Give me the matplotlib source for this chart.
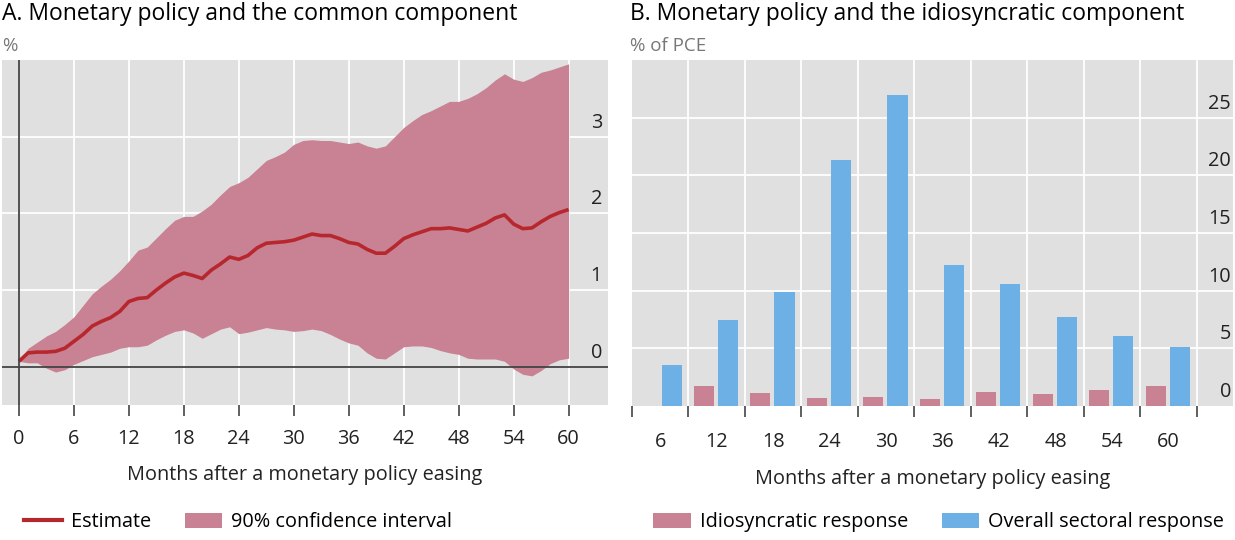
import matplotlib
matplotlib.use("Agg")
import matplotlib.pyplot as plt
import matplotlib.transforms as mtransforms
from matplotlib.lines import Line2D
from matplotlib.patches import Patch
import numpy as np

plt.rcParams['font.family'] = ['Open Sans', 'DejaVu Sans']

# ---------------- Data ----------------
months = list(range(0, 61))
estimate = [0.07, 0.18, 0.19, 0.19, 0.20, 0.24, 0.33, 0.42, 0.53, 0.59,
            0.64, 0.72, 0.85, 0.89, 0.90, 1.00, 1.09, 1.17, 1.22, 1.19,
            1.15, 1.26, 1.34, 1.43, 1.40, 1.45, 1.55, 1.61, 1.62, 1.63,
            1.65, 1.69, 1.73, 1.71, 1.71, 1.67, 1.62, 1.60, 1.53, 1.48,
            1.48, 1.57, 1.67, 1.72, 1.76, 1.80, 1.80, 1.81, 1.79, 1.77,
            1.82, 1.87, 1.94, 1.98, 1.86, 1.80, 1.81, 1.89, 1.96, 2.01,
            2.05]
upper = [0.07, 0.24, 0.32, 0.40, 0.46, 0.55, 0.65, 0.80, 0.95, 1.05,
         1.14, 1.25, 1.38, 1.52, 1.56, 1.68, 1.80, 1.91, 1.96, 1.96,
         2.03, 2.12, 2.24, 2.35, 2.40, 2.47, 2.58, 2.69, 2.74, 2.80,
         2.90, 2.95, 2.96, 2.95, 2.95, 2.93, 2.91, 2.93, 2.88, 2.85,
         2.88, 3.00, 3.12, 3.21, 3.29, 3.34, 3.40, 3.46, 3.46, 3.50,
         3.56, 3.64, 3.74, 3.82, 3.75, 3.72, 3.77, 3.84, 3.87, 3.91,
         3.95]
lower = [0.07, 0.05, 0.05, -0.02, -0.07, -0.04, 0.03, 0.08, 0.13, 0.16,
         0.19, 0.24, 0.26, 0.26, 0.28, 0.35, 0.41, 0.46, 0.48, 0.44,
         0.37, 0.43, 0.49, 0.52, 0.43, 0.45, 0.48, 0.51, 0.49, 0.48,
         0.46, 0.47, 0.49, 0.47, 0.42, 0.36, 0.31, 0.28, 0.18, 0.11,
         0.10, 0.18, 0.26, 0.27, 0.27, 0.25, 0.21, 0.18, 0.16, 0.11,
         0.10, 0.10, 0.10, 0.07, -0.03, -0.10, -0.12, -0.05, 0.04, 0.09,
         0.11]
a_xticks = [0, 6, 12, 18, 24, 30, 36, 42, 48, 54, 60]
a_yticks = [0, 1, 2, 3]

b_categories = ['6', '12', '18', '24', '30', '36', '42', '48', '54', '60']
idiosyncratic = [0.0, 1.76, 1.1, 0.66, 0.75, 0.6, 1.19, 1.0, 1.39, 1.73]
overall = [3.55, 7.45, 9.9, 21.3, 26.95, 12.2, 10.6, 7.7, 6.1, 5.1]
b_yticks = [0, 5, 10, 15, 20, 25]

# ---------------- Style ----------------
BG = '#e0e0e0'
BAND = '#c98194'
LINE = '#b7282e'
BLUE = '#6cb0e6'
PINK = '#c98194'
AXC = '#444444'
GREY_TXT = '#777777'
TXT = '#222222'
FS = 14.3

W, H = 1235, 540
fig = plt.figure(figsize=(W / 100, H / 100), dpi=100)

def rect(x0, y0, x1, y1):
    return [x0 / W, 1 - y1 / H, (x1 - x0) / W, (y1 - y0) / H]

axA = fig.add_axes(rect(2, 60, 608, 405))
axB = fig.add_axes(rect(632, 60, 1233, 406))

for ax in (axA, axB):
    ax.set_facecolor(BG)
    for s in ax.spines.values():
        s.set_visible(False)
    ax.set_axisbelow(True)

# ---------------- Panel A ----------------
axA.set_xlim(-1.85, 64.3)
axA.set_ylim(-0.5, 4)
for v in a_xticks:
    axA.axvline(v, color='white', lw=1.3, zorder=0)
for v in a_yticks[1:]:
    axA.axhline(v, color='white', lw=1.3, zorder=0)
axA.fill_between(months, lower, upper, color=BAND, lw=0, zorder=2)
axA.plot(months, estimate, color=LINE, lw=2.6, zorder=3, solid_capstyle='butt')
axA.axhline(0, color=AXC, lw=1.3, zorder=4)
axA.axvline(0, color=AXC, lw=1.3, zorder=4)

axA.set_xticks(a_xticks)
axA.set_xticklabels([str(v) for v in a_xticks])
axA.set_yticks([])
axA.tick_params(axis='x', length=8, width=1.2, color=AXC, pad=9,
                labelsize=FS, labelcolor=TXT, direction='out')
transA = mtransforms.blended_transform_factory(axA.transAxes, axA.transData)
offA = mtransforms.offset_copy(transA, fig=fig, x=0, y=14, units='dots')
for v in a_yticks:
    axA.text(0.99, v, str(v), transform=offA, ha='right', va='center',
             fontsize=FS, color=TXT)

axA.set_xlabel('Months after a monetary policy easing', fontsize=FS,
               color=TXT, labelpad=12)

fig.text(2 / W, 1 - 14 / H, 'A. Monetary policy and the common component',
         fontsize=16.5, ha='left', va='center', color='black')
fig.text(2 / W, 1 - 46 / H, '%', fontsize=13.5, ha='left', va='center',
         color=GREY_TXT)

# ---------------- Panel B ----------------
xpos = np.arange(len(b_categories))
axB.set_xlim(-0.5, 10.14)
axB.set_ylim(0, 30)
for v in np.arange(0.5, 10, 1.0):
    axB.axvline(v, color='white', lw=1.3, zorder=0)
for v in b_yticks[1:]:
    axB.axhline(v, color='white', lw=1.3, zorder=0)
bw = 0.355
axB.bar(xpos - 0.23, idiosyncratic, width=bw, color=PINK, zorder=2)
axB.bar(xpos + 0.2, overall, width=bw, color=BLUE, zorder=2)

axB.set_xticks(np.arange(-0.5, 10, 1.0))
axB.set_xticklabels([])
axB.set_xticks(xpos, minor=True)
axB.set_xticklabels(b_categories, minor=True)
axB.tick_params(axis='x', which='major', length=8, width=1.2, color=AXC,
                direction='out')
axB.tick_params(axis='x', which='minor', length=0, pad=19, labelsize=FS,
                labelcolor=TXT)
axB.set_yticks([])
transB = mtransforms.blended_transform_factory(axB.transAxes, axB.transData)
offB = mtransforms.offset_copy(transB, fig=fig, x=0, y=14, units='dots')
for v in b_yticks:
    axB.text(0.997, v, str(v), transform=offB, ha='right', va='center',
             fontsize=FS, color=TXT)
axB.set_xlabel('Months after a monetary policy easing', fontsize=FS,
               color=TXT, labelpad=12)

fig.text(630 / W, 1 - 14 / H, 'B. Monetary policy and the idiosyncratic component',
         fontsize=16.5, ha='left', va='center', color='black')
fig.text(630 / W, 1 - 46 / H, '% of PCE', fontsize=13.5, ha='left',
         va='center', color=GREY_TXT)

# ---------------- Legends ----------------
common = dict(loc='center left', ncol=2, frameon=False, fontsize=FS,
              handlelength=1.9, handleheight=0.8, columnspacing=1.7,
              handletextpad=0.45, borderpad=0, borderaxespad=0)
legA = [Line2D([0], [0], color=LINE, lw=3),
        Patch(facecolor=BAND, edgecolor='none')]
fig.legend(legA, ['Estimate', '90% confidence interval'],
           bbox_to_anchor=(24 / W, 1 - 522 / H), **common)
legB = [Patch(facecolor=PINK, edgecolor='none'),
        Patch(facecolor=BLUE, edgecolor='none')]
fig.legend(legB, ['Idiosyncratic response', 'Overall sectoral response'],
           bbox_to_anchor=(653 / W, 1 - 522 / H), **common)

fig.savefig('out.png', dpi=100)
